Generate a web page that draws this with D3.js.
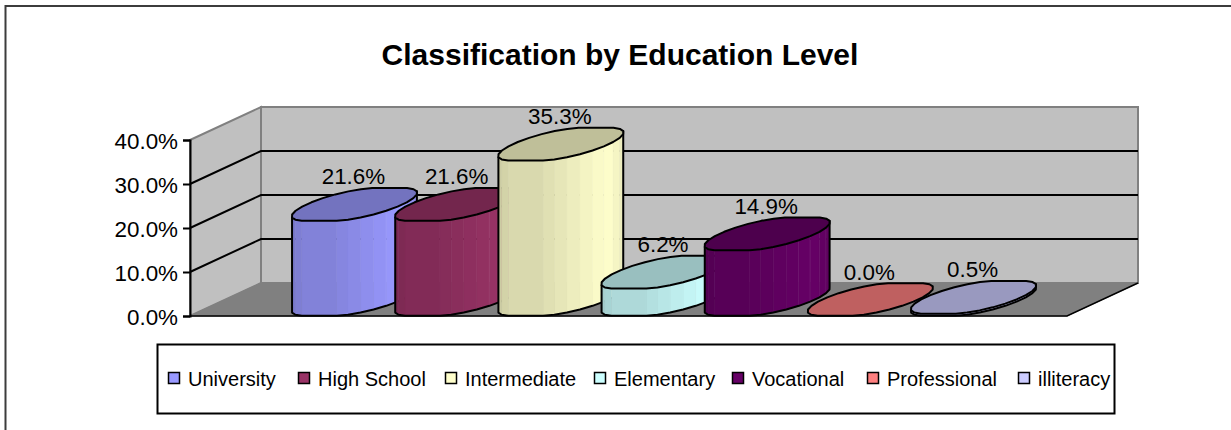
<!DOCTYPE html>
<html>
<head>
<meta charset="utf-8">
<script src="https://cdn.jsdelivr.net/npm/d3@7"></script>
<style>
  html, body { margin: 0; padding: 0; background: #fff; overflow: hidden; }
  svg { display: block; }
  text { font-family: "Liberation Sans", Arial, sans-serif; fill: #000; }
</style>
</head>
<body>
<div id="chart"></div>
<script>
// data
var categories = ["University", "High School", "Intermediate", "Elementary", "Vocational", "Professional", "illiteracy"];
var values     = [21.6, 21.6, 35.3, 6.2, 14.9, 0.0, 0.5];
var colors     = ["#9999ff", "#993366", "#ffffcc", "#ccffff", "#660066", "#ff8080", "#ccccff"];
var yTicks     = [0, 10, 20, 30, 40];
var titleText  = "Classification by Education Level";

var width = 1231, height = 430;

// plot box, front floor edge + how far the depth axis shifts things
var front = {left: 190, right: 1067, bottom: 316, top: 140};
var depth = {x: 71, y: -33};

var svg = d3.select("#chart").append("svg")
    .attr("width", width)
    .attr("height", height);

// chart frame, only top and left edges fall inside the picture
svg.append("rect")
    .attr("x", 5.5).attr("y", 6)
    .attr("width", 1400).attr("height", 600)
    .attr("fill", "#fff")
    .attr("stroke", "#3c3c3c")
    .attr("stroke-width", 2);

svg.append("text")
    .attr("x", 620).attr("y", 65)
    .attr("text-anchor", "middle")
    .attr("font-size", 30)
    .attr("font-weight", "bold")
    .text(titleText);

var y = d3.scaleLinear().domain([0, 40]).range([front.bottom, front.top]);
var x = d3.scaleBand().domain(categories)
    .range([front.left + depth.x / 2, front.right + depth.x / 2])
    .paddingInner(0).paddingOuter(0.75);

function poly(pts) { return "M" + pts.map(function(p) { return p.join(","); }).join("L") + "Z"; }

// walls and floor
var wallG = svg.append("g");
wallG.append("path") // back wall
    .attr("d", poly([[front.left + depth.x, y(40) + depth.y], [front.right + depth.x, y(40) + depth.y],
                     [front.right + depth.x, y(0) + depth.y], [front.left + depth.x, y(0) + depth.y]]))
    .attr("fill", "#c0c0c0").attr("stroke", "#808080").attr("stroke-width", 2);
wallG.append("path") // side wall
    .attr("d", poly([[front.left, y(40)], [front.left + depth.x, y(40) + depth.y],
                     [front.left + depth.x, y(0) + depth.y], [front.left, y(0)]]))
    .attr("fill", "#c0c0c0").attr("stroke", "#808080").attr("stroke-width", 2);
wallG.append("path") // floor
    .attr("d", poly([[front.left, y(0)], [front.right, y(0)],
                     [front.right + depth.x, y(0) + depth.y], [front.left + depth.x, y(0) + depth.y]]))
    .attr("fill", "#808080").attr("stroke", "#808080");

// gridlines, bent round the corner
wallG.selectAll(".grid")
    .data(yTicks.filter(function(d) { return d > 0 && d < 40; }))
    .enter().append("path")
    .attr("class", "grid")
    .attr("fill", "none").attr("stroke", "#000").attr("stroke-width", 2)
    .attr("d", function(d) {
      return "M" + front.left + "," + y(d) +
             "L" + (front.left + depth.x) + "," + (y(d) + depth.y) +
             "L" + (front.right + depth.x) + "," + (y(d) + depth.y);
    });

// front and right floor edges are black
wallG.append("path")
    .attr("d", "M" + front.left + "," + y(0) + "L" + front.right + "," + y(0) +
               "L" + (front.right + depth.x) + "," + (y(0) + depth.y))
    .attr("fill", "none")
    .attr("stroke", "#000").attr("stroke-width", 1.5);

// y axis
var axis = d3.axisLeft(y)
    .tickValues(yTicks)
    .tickSize(7)
    .tickFormat(function(d) { return d.toFixed(1) + "%"; });
var axisG = svg.append("g")
    .attr("transform", "translate(" + front.left + ",0)")
    .call(axis);
axisG.select(".domain").attr("stroke", "#000").attr("stroke-width", 2);
axisG.selectAll(".tick line").attr("stroke", "#000").attr("stroke-width", 2);
axisG.selectAll(".tick text")
    .attr("font-size", 22.4)
    .attr("font-family", '"Liberation Sans", Arial, sans-serif')
    .attr("x", -12).attr("dy", "0.36em");

// cylinders. The caps are not true ellipses: a sheared ellipse stretched
// sideways by capFlat, which gives the flat top/bottom and blunt ends
var nFacets = 24;
var radiusX = x.bandwidth() * 0.34;
var capFlat = x.bandwidth() * 0.125;
var radiusD = 0.5;

function ring(cx, cy) {
  return d3.range(nFacets).map(function(i) {
    var a = (i + 0.5) / nFacets * 2 * Math.PI;
    var c = Math.cos(a), s = Math.sin(a);
    return [cx + radiusX * c + radiusD * depth.x * s + (c < 0 ? -capFlat : capFlat),
            cy + radiusD * depth.y * s];
  });
}

function shade(color, k) {
  var c = d3.rgb(color);
  return d3.rgb(c.r * k, c.g * k, c.b * k).formatHex();
}

var barData = categories.map(function(c, i) { return {name: c, value: values[i], color: colors[i]}; });

var bars = svg.selectAll(".bar").data(barData).enter().append("g").attr("class", "bar");

bars.each(function(d) {
  var g = d3.select(this);
  var cx = x(d.name) + x.bandwidth() / 2;
  var base = ring(cx, y(0) + depth.y / 2);
  var h = y(0) - y(d.value);
  var top = base.map(function(p) { return [p[0], p[1] - h]; });

  // side facets that face the viewer, lit from the right
  var xs = base.map(function(p) { return p[0]; });
  var iRight = xs.indexOf(d3.max(xs)), iLeft = xs.indexOf(d3.min(xs));
  var side = [];
  for (var i = iLeft; ; i = (i + 1) % nFacets) {
    side.push(i);
    if (i === iRight) break;
  }

  if (h > 0) {
    side.forEach(function(i, n) {
      if (n === side.length - 1) return;
      var j = side[n + 1];
      var f = n / (side.length - 2);
      var k = f < 0.7 ? 0.8 + 0.2 * (f / 0.7) : 1 - 0.1 * ((f - 0.7) / 0.3);
      g.append("path")
          .attr("d", poly([top[i], top[j], base[j], base[i]]))
          .attr("fill", shade(d.color, k))
          .attr("stroke", shade(d.color, k))
          .attr("stroke-width", 0.5);
      // faint seam between the lit facets
      if (f > 0.5) {
        g.append("line")
            .attr("x1", base[j][0]).attr("x2", base[j][0])
            .attr("y1", top[j][1]).attr("y2", base[j][1])
            .attr("stroke", "#fff").attr("stroke-opacity", 0.15);
      }
    });
    var outline = side.map(function(i) { return base[i]; })
        .concat([top[iRight], top[iLeft]]);
    g.append("path")
        .attr("d", poly(outline))
        .attr("fill", "none")
        .attr("stroke", "#000").attr("stroke-width", 2)
        .attr("stroke-linejoin", "round");
  }

  g.append("path")
      .attr("d", poly(top))
      .attr("fill", shade(d.color, 0.75))
      .attr("stroke", "#000").attr("stroke-width", 2)
      .attr("stroke-linejoin", "round");
});

// value labels go on last, they sit over the neighbouring bars
svg.selectAll(".label").data(barData).enter().append("text")
    .attr("class", "label")
    .attr("x", function(d) { return x(d.name) + x.bandwidth() / 2 - 1; })
    .attr("y", function(d) { return y(d.value) + depth.y / 2 - 20; })
    .attr("text-anchor", "middle")
    .attr("font-size", 22.4)
    .text(function(d) { return d.value.toFixed(1) + "%"; });

// legend
var legendBox = {x: 157.5, y: 344.5, w: 957, h: 69};
svg.append("rect")
    .attr("x", legendBox.x).attr("y", legendBox.y)
    .attr("width", legendBox.w).attr("height", legendBox.h)
    .attr("fill", "#fff").attr("stroke", "#000").attr("stroke-width", 2);

var legendX = d3.scaleOrdinal().domain(categories).range([168, 298, 445, 594, 732, 867, 1018]);

var legend = svg.selectAll(".legend").data(barData).enter().append("g")
    .attr("class", "legend")
    .attr("transform", function(d) { return "translate(" + legendX(d.name) + ",378)"; });
legend.append("rect")
    .attr("x", 0.5).attr("y", -5.5)
    .attr("width", 11).attr("height", 11)
    .attr("fill", function(d) { return d.color; })
    .attr("stroke", "#000").attr("stroke-width", 1.5);
legend.append("text")
    .attr("x", 20).attr("y", 8)
    .attr("font-size", 20)
    .text(function(d) { return d.name; });
</script>
</body>
</html>
